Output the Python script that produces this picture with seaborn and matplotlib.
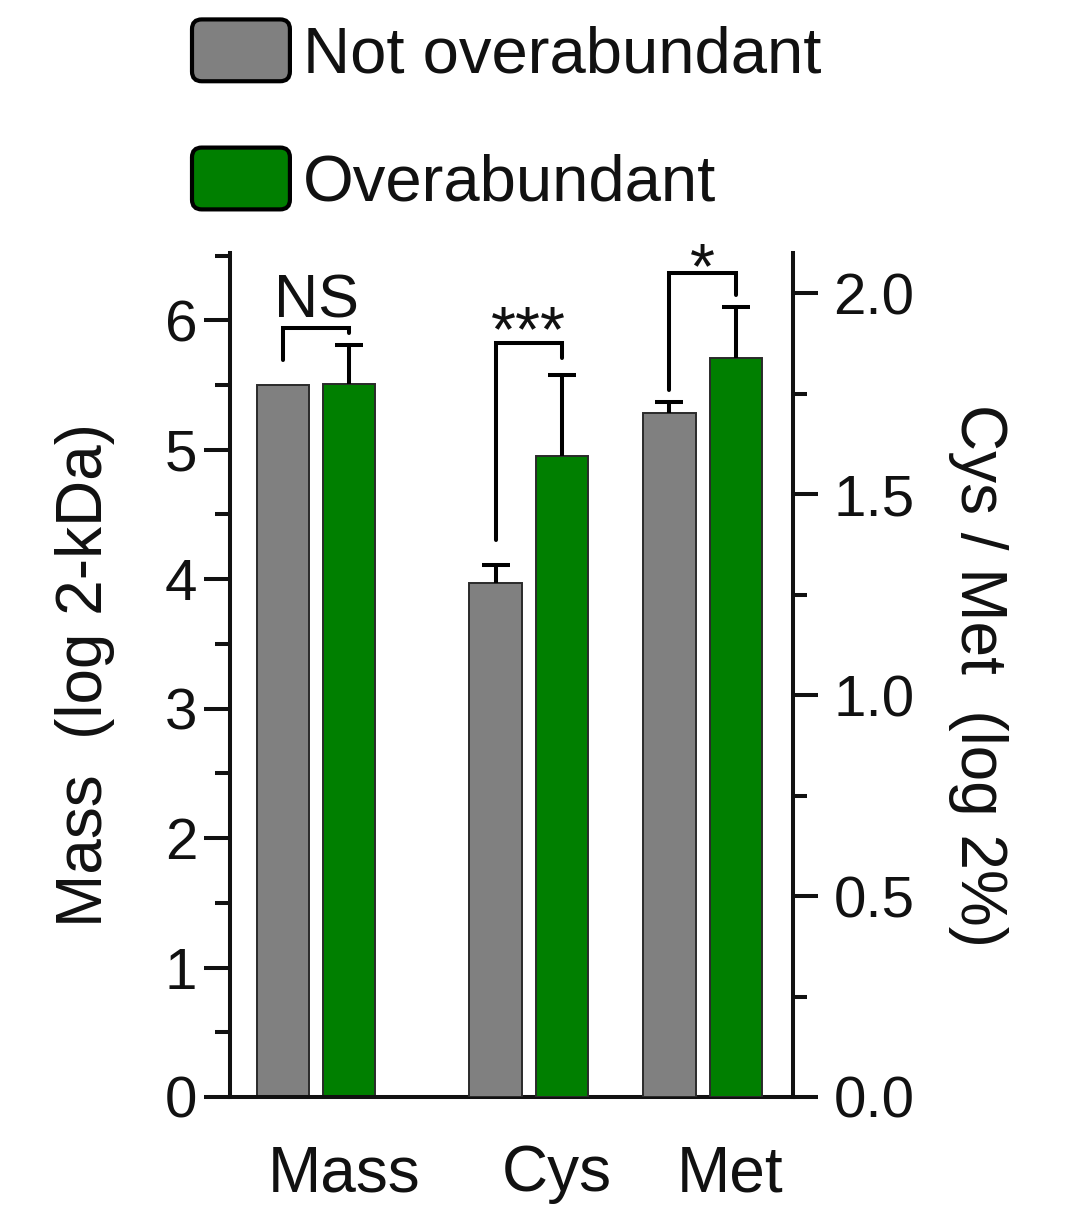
import numpy as np
import pandas as pd
import matplotlib
matplotlib.use("Agg")
import matplotlib.pyplot as plt
import matplotlib.patches as mpatches
from matplotlib.ticker import MultipleLocator, FormatStrFormatter
from matplotlib.legend_handler import HandlerPatch
import seaborn as sns

# ---------------- data ----------------
series = ["Not overabundant", "Overabundant"]
left_groups = ["Mass"]
right_groups = ["Cys", "Met"]
mass_means = [5.50, 5.51]            # log2 kDa (left axis)
mass_err = [0.00, 0.30]
cys_means = [1.279, 1.595]           # log2 % (right axis)
cys_err = [0.044, 0.201]
met_means = [1.701, 1.838]
met_err = [0.028, 0.127]
sig_labels = ["NS", "***", "*"]
xtick_labels = ["Mass", "Cys", "Met"]

# ---------------- style ----------------
sns.set_theme(style="ticks")
plt.rcParams["font.family"] = ["Liberation Sans", "DejaVu Sans"]
plt.rcParams["text.color"] = "#111111"
plt.rcParams["axes.labelcolor"] = "#111111"
plt.rcParams["xtick.color"] = "#111111"
plt.rcParams["ytick.color"] = "#111111"

colors = {"Not overabundant": "#808080", "Overabundant": "#007F00"}
group_pos = {"Mass": 0.0, "Cys": 1.2245, "Met": 2.2245}
LW = 2.9

fig = plt.figure(figsize=(10.76, 12.14), dpi=100)
ax = fig.add_axes([230 / 1076, 1 - 1097 / 1214, (793 - 230) / 1076, (1097 - 253) / 1214])
ax2 = ax.twinx()

df_left = pd.DataFrame({
    "pos": [group_pos[g] for g in left_groups for _ in series],
    "status": series * len(left_groups),
    "value": mass_means,
})
df_right = pd.DataFrame({
    "pos": [group_pos[g] for g in right_groups for _ in series],
    "status": series * len(right_groups),
    "value": cys_means + met_means,
})
err_left = {(0, s): e for s, e in zip(series, mass_err)}
err_right = {}
for i, errs in enumerate([cys_err, met_err]):
    for s, e in zip(series, errs):
        err_right[(i, s)] = e

bar_kw = dict(hue="status", hue_order=series, palette=colors, native_scale=True,
              width=0.763, gap=0.21, errorbar=None, edgecolor="#2a2a2a",
              linewidth=1.4, legend=False, saturation=1)
sns.barplot(data=df_left, x="pos", y="value", ax=ax, **bar_kw)
sns.barplot(data=df_right, x="pos", y="value", ax=ax2, **bar_kw)


def bar_centers(axis):
    """Return dict[(group_index, series)] -> (center x, top y)."""
    out = {}
    for s, cont in zip(series, axis.containers):
        for gi, b in enumerate(cont.patches):
            out[(gi, s)] = (b.get_x() + b.get_width() / 2, b.get_height())
    return out


cl = bar_centers(ax)
cr = bar_centers(ax2)

for centers, errs, axis in [(cl, err_left, ax), (cr, err_right, ax2)]:
    for key, (cx, top) in centers.items():
        e = errs[key]
        if e > 0:
            _, caps, _ = axis.errorbar([cx], [top], yerr=[[0], [e]], fmt="none",
                                       ecolor="black", elinewidth=LW, capsize=10,
                                       capthick=LW, zorder=5)
            caps[0].set_visible(False)   # only the upper cap


def bracket(axis, x1, x2, y1, ytop, y2, label, ytext, fs):
    axis.plot([x1, x1, x2, x2], [y1, ytop, ytop, y2], color="black", lw=LW,
              solid_joinstyle="miter", clip_on=False, zorder=6)
    axis.text((x1 + x2) / 2, ytext, label, ha="center", va="baseline",
              fontsize=fs, clip_on=False)


bracket(ax, cl[(0, series[0])][0], cl[(0, series[1])][0], 5.69, 5.94, 5.90,
        sig_labels[0], 6.02, 44)
bracket(ax2, cr[(0, series[0])][0], cr[(0, series[1])][0], 1.386, 1.876, 1.838,
        sig_labels[1], 1.856, 46)
bracket(ax2, cr[(1, series[0])][0], cr[(1, series[1])][0], 1.759, 2.05, 1.995,
        sig_labels[2], 2.012, 46)

# ---------------- axes ----------------
ax.set_xlim(-0.495, 2.745)
ax.set_ylim(0, 6.52)
ax2.set_ylim(0, 2.1)

ax.set_xticks([group_pos[g] + 0.16 for g in xtick_labels])
ax.set_xticklabels(xtick_labels, fontsize=46)
ax.tick_params(axis="x", length=0, pad=34)

ax.yaxis.set_major_locator(MultipleLocator(1))
ax.yaxis.set_minor_locator(MultipleLocator(0.5))
ax.tick_params(axis="y", which="major", direction="out", length=18.5, width=LW,
               labelsize=42, pad=5)
ax.tick_params(axis="y", which="minor", direction="out", length=10.5, width=LW)

ax2.yaxis.set_major_locator(MultipleLocator(0.5))
ax2.yaxis.set_minor_locator(MultipleLocator(0.25))
ax2.yaxis.set_major_formatter(FormatStrFormatter("%.1f"))
ax2.tick_params(axis="y", which="major", direction="out", length=18, width=LW,
                labelsize=42, pad=11)
ax2.tick_params(axis="y", which="minor", direction="out", length=10, width=LW)

for a in (ax, ax2):
    a.set_facecolor("none")
    a.spines["top"].set_visible(False)
    for sp in a.spines.values():
        sp.set_linewidth(LW)
        sp.set_color("#111111")
ax.spines["right"].set_visible(False)
ax2.spines["left"].set_visible(False)
ax2.spines["bottom"].set_visible(False)

ax.set_xlabel("")
ax.set_ylabel("Mass  (log 2-kDa)", fontsize=46)
ax.yaxis.set_label_coords(-0.205, 0.5)
ax2.set_ylabel("Cys / Met  (log 2%)", fontsize=46, rotation=270, va="bottom")
ax2.yaxis.set_label_coords(1.275, 0.5)

# ---------------- legend ----------------
def rounded(legend, orig_handle, xdescent, ydescent, width, height, fontsize):
    return mpatches.FancyBboxPatch((-xdescent, -ydescent), width, height,
                                   boxstyle="round,pad=0,rounding_size=7")


handles = [mpatches.Patch(facecolor=colors[s], edgecolor="black", linewidth=3.0)
           for s in series]
fig.legend(handles, series, loc="upper left", bbox_to_anchor=(192 / 1076, 0.984),
           frameon=False, fontsize=47, handlelength=1.5, handleheight=1.08,
           handletextpad=0.2, labelspacing=0.95, borderaxespad=0, borderpad=0,
           handler_map={mpatches.Patch: HandlerPatch(patch_func=rounded)})

fig.savefig("out.png", dpi=100)
